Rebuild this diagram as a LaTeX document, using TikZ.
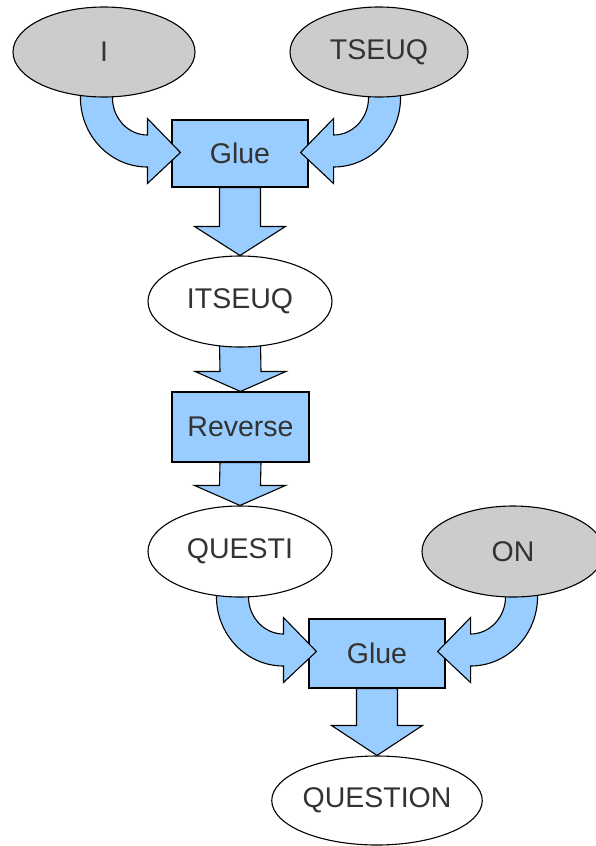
\documentclass[tikz,border=0pt]{standalone}
\usepackage{fontspec}
\setmainfont{Liberation Sans}
\usetikzlibrary{shapes.geometric,calc}
\definecolor{boxblue}{HTML}{99CCFF}
\definecolor{ingray}{HTML}{CCCCCC}
\definecolor{txt}{HTML}{333333}
\pgfdeclarelayer{boxlayer}
\pgfdeclarelayer{arrowlayer}
\pgfsetlayers{boxlayer,arrowlayer,main}
\tikzset{
  base/.style={draw=black,line width=1.1pt,text=txt,font=\fontsize{28.5}{34}\selectfont,inner sep=0pt},
  inell/.style={base,ellipse,fill=ingray,minimum width=182pt,minimum height=90pt},
  midell/.style={base,ellipse,fill=white,minimum width=184pt,minimum height=91pt},
  opbox/.style={base,rectangle,fill=boxblue},
  barrow/.style={draw=black,fill=boxblue,line width=1.1pt,line join=miter}
}
% curved block arrow, tip at #1, #2 = 1 (points right) or -1 (points left)
\newcommand\bendarrow[2]{%
  \begin{scope}[shift={(#1)},xscale=#2]
    \draw[barrow] (0,0) -- (-33,-34) -- (-33,-17.5)
      arc[start angle=90,end angle=180,x radius=35,y radius=37.5]
      -- ++(0,-6) -- (-100,-61) -- (-100,-55)
      arc[start angle=180,end angle=90,x radius=67,y radius=69.5]
      -- (-33,31) -- cycle;
  \end{scope}}
% straight block arrow from #1 down to tip #2, head length #3
\newcommand\blockdown[3]{%
  \draw[barrow] ($(#1)+(-20.5,0)$) -- ($(#2)+(-20.5,-#3)$) -- ($(#2)+(-45.5,-#3)$)
    -- (#2) -- ($(#2)+(45.5,-#3)$) -- ($(#2)+(20.5,-#3)$) -- ($(#1)+(20.5,0)$) -- cycle;}
\begin{document}
\begin{tikzpicture}[x=1pt,y=-1pt]
\useasboundingbox (0,0) rectangle (595,846);
% operation boxes (bottom layer)
\begin{pgfonlayer}{boxlayer}
\node[opbox,minimum width=136pt,minimum height=67pt] (glue1) at (240,153.5) {Glue};
\node[opbox,minimum width=137pt,minimum height=70pt] (rev) at (240.5,427) {Reverse};
\node[opbox,minimum width=136pt,minimum height=69pt] (glue2) at (377,653.5) {Glue};
\end{pgfonlayer}
% strings (top layer)
\node[inell] (elI) at (104,52) {I};
\node[inell,minimum width=178pt] (elT) at (379,52) {TSEUQ};
\node[midell] (itseuq) at (240,301.5) {ITSEUQ};
\node[midell] (questi) at (240,551.5) {QUESTI};
\node[inell,minimum height=91pt] (elON) at (513,551.5) {ON};
\node[midell,minimum width=182pt,minimum height=89pt] (question) at (377,800.5) {QUESTION};
% block arrows (middle layer)
\begin{pgfonlayer}{arrowlayer}
\coordinate (t1) at ($(glue1.west)+(9,-1)$);
\coordinate (t2) at ($(glue1.east)+(-8,-1)$);
\coordinate (t3) at ($(glue2.west)+(8,-2)$);
\coordinate (t4) at ($(glue2.east)+(-8,-2)$);
\bendarrow{t1}{1}
\bendarrow{t2}{-1}
\bendarrow{t3}{1}
\bendarrow{t4}{-1}
\coordinate (a2s) at ($(itseuq.south)+(0,-5)$);
\blockdown{glue1.south}{itseuq.north}{29}
\blockdown{a2s}{rev.north}{20}
\blockdown{rev.south}{questi.north}{20}
\blockdown{glue2.south}{question.north}{30}
\end{pgfonlayer}
\end{tikzpicture}
\end{document}
